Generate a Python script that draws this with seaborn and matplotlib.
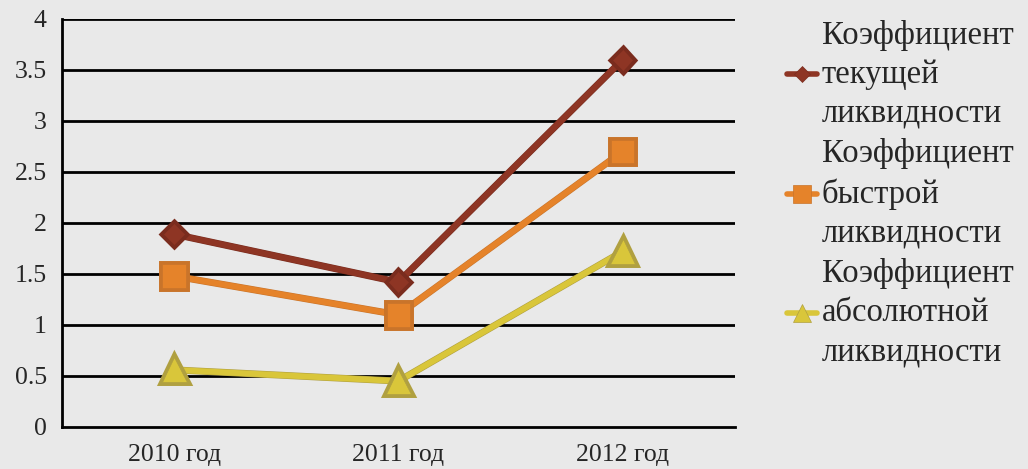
import matplotlib
matplotlib.use("Agg")
import matplotlib.pyplot as plt
import matplotlib.patheffects as pe
import seaborn as sns
import pandas as pd
from matplotlib.ticker import FixedLocator

# -----------------------------
# Data
# -----------------------------
years = ["2010 год", "2011 год", "2012 год"]
current_ratio = [1.89, 1.42, 3.6]
quick_ratio = [1.48, 1.1, 2.7]
absolute_ratio = [0.56, 0.45, 1.72]
series_names = [
    "Коэффициент\nтекущей\nликвидности",
    "Коэффициент\nбыстрой\nликвидности",
    "Коэффициент\nабсолютной\nликвидности",
]
y_ticks = [0, 0.5, 1, 1.5, 2, 2.5, 3, 3.5, 4]
y_tick_labels = ["0", "0.5", "1", "1.5", "2", "2.5", "3", "3.5", "4"]

colors = ["#8e3524", "#e5832a", "#d9c63a"]
edge_colors = ["#7a2c1e", "#c9742a", "#b0a040"]
markers = ["D", "s", "^"]
marker_sizes = [11, 17, 18]

sns.set_style("white")
plt.rcParams["font.family"] = ["Liberation Serif", "DejaVu Serif"]

bg = "#e9e9e9"
fig = plt.figure(figsize=(10.28, 4.69), dpi=100, facecolor=bg)
ax = fig.add_axes([0.0603, 0.0896, 0.7147 - 0.0603, 0.9595 - 0.0896])
ax.set_facecolor(bg)

for name, vals, c, ec, m, ms in zip(series_names,
                                    [current_ratio, quick_ratio, absolute_ratio],
                                    colors, edge_colors, markers, marker_sizes):
    df = pd.DataFrame({"year": years, "value": vals})
    sns.lineplot(data=df, x="year", y="value", ax=ax, color=c, linewidth=4.2,
                 marker=m, markersize=ms, markeredgecolor=ec,
                 markeredgewidth=0.5, label=name, sort=False, zorder=3,
                 path_effects=[pe.Stroke(linewidth=5.0, foreground=ec), pe.Normal()])

# -----------------------------
# Axes styling
# -----------------------------
ax.set_xlim(-0.5, 2.5)
ax.set_ylim(0, 4)
ax.set_yticks(y_ticks)
ax.set_yticklabels(y_tick_labels)
ax.set_xlabel("")
ax.set_ylabel("")

for y in y_ticks[1:]:
    ax.axhline(y, color="black", linewidth=2, zorder=1)

for side in ["top", "right"]:
    ax.spines[side].set_visible(False)
for side in ["left", "bottom"]:
    ax.spines[side].set_linewidth(2)
    ax.spines[side].set_color("black")

ax.tick_params(axis="y", direction="out", length=8, width=2, labelsize=18.5, pad=3)
ax.tick_params(axis="x", which="major", length=0, labelsize=18.5, pad=12)
ax.xaxis.set_minor_locator(FixedLocator([-0.5, 0.5, 1.5, 2.5]))
ax.tick_params(axis="x", which="minor", direction="out", length=8, width=2)

leg = ax.legend(loc="upper left", bbox_to_anchor=(0.747, 1.0),
                bbox_transform=fig.transFigure, frameon=False,
                fontsize=23.5, handlelength=0.9, handletextpad=0.15,
                labelspacing=0.3, borderpad=0.1, markerscale=0.75)
for t in leg.get_texts():
    t.set_linespacing(1.36)
for h in leg.get_lines():
    h.set_linewidth(4)
    h.set_path_effects([])

plt.savefig("out.png", dpi=100, facecolor=bg)
